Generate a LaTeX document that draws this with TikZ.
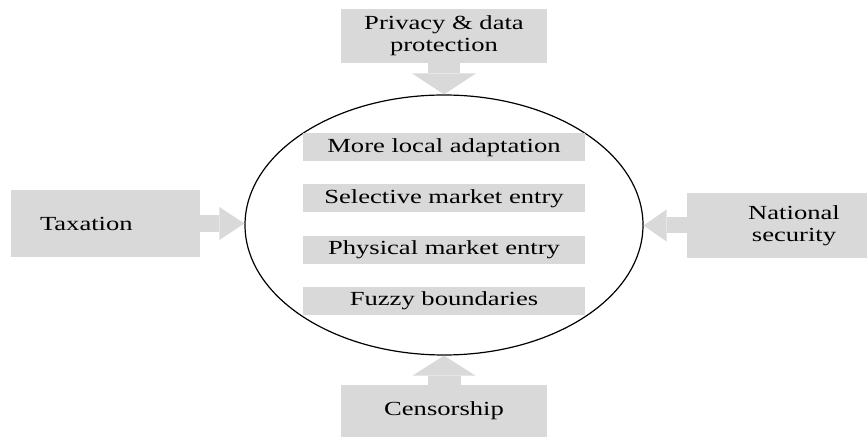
\documentclass[tikz,border=0pt]{standalone}
\usepackage{fontspec}
\setmainfont{Liberation Serif}[FakeStretch=1.33]
\usepackage{xcolor}
\usetikzlibrary{shapes.geometric, arrows.meta}

\definecolor{boxgrey}{RGB}{217,217,217}

\begin{document}
\begin{tikzpicture}[x = 1pt, y = -1pt,
        greybox/.style = {fill = boxgrey, rectangle, inner sep = 0pt, align = center,
        font = \fontsize{20}{22}\selectfont},
        blockarrow/.style = {draw = boxgrey}]
        \useasboundingbox (0,0) rectangle (867,438);
        % outer ring and the four strategies inside it
        \node [draw, ellipse, line width = 1.2pt, inner sep = 0pt, minimum width = 398pt,
        minimum height = 260pt] (ring) at (444,225) {};
        \node [greybox, minimum width = 282pt, minimum height = 28pt] (adapt) at (444,147.5)
        {More local adaptation};
        \node [greybox, minimum width = 282pt, minimum height = 28pt] (select) at (444,198.5)
        {Selective market entry};
        \node [greybox, minimum width = 282pt, minimum height = 28pt] (phys) at (444,250)
        {Physical market entry};
        \node [greybox, minimum width = 282pt, minimum height = 28pt] (fuzzy) at (444,301)
        {Fuzzy boundaries};
        % pressures from outside
        \node [greybox, minimum width = 206pt, minimum height = 54pt] (privacy) at (444,36)
        {Privacy \& data\\protection};
        \node [greybox, minimum width = 189pt, minimum height = 67pt, inner xsep = 29pt,
        text width = 131pt, align = left] (tax) at (105.5,223.5) {Taxation};
        \node [greybox, minimum width = 214pt, minimum height = 65pt] (natsec) at (794,225.5)
        {National\\security};
        \node [greybox, minimum width = 206pt, minimum height = 52pt] (censor) at (444,411)
        {Censorship};
        % block arrows onto the ring
        \draw [blockarrow, line width = 32pt,
        -{Triangle[width = 64pt, length = 21pt, line width = 0pt]}] (privacy.south) --
        (ring.north);
        \draw [blockarrow, line width = 17pt,
        -{Triangle[width = 33pt, length = 25pt, line width = 0pt]}] (tax.east) --
        (tax.east -| ring.west);
        \draw [blockarrow, line width = 16pt,
        -{Triangle[width = 32pt, length = 23pt, line width = 0pt]}] (natsec.west) --
        (natsec.west -| ring.east);
        \draw [blockarrow, line width = 33pt,
        -{Triangle[width = 63pt, length = 20pt, line width = 0pt]}] (censor.north) --
        (ring.south);
    \end{tikzpicture}
\end{document}
